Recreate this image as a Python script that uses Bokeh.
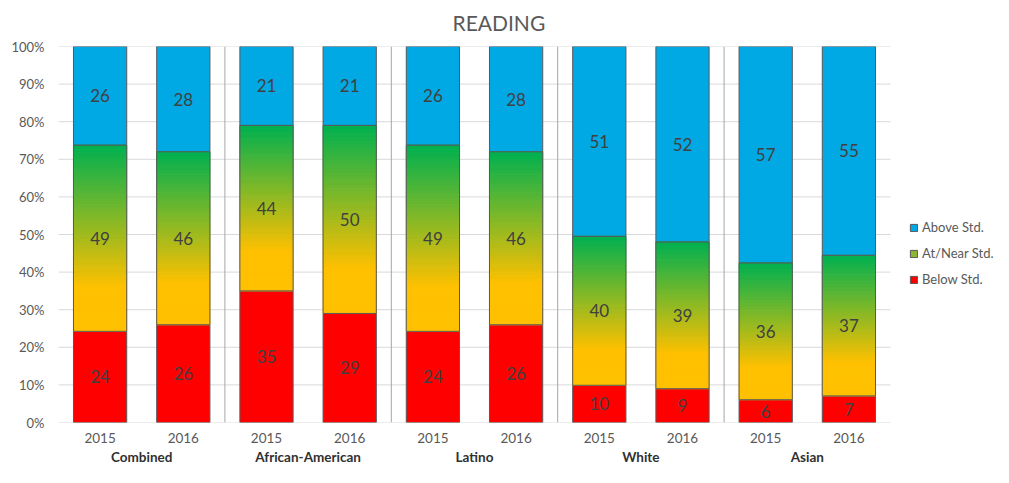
from bokeh.plotting import figure
from bokeh.models import (Range1d, LinearAxis, FixedTicker, Span, Legend, LegendItem,
                          PrintfTickFormatter)
from bokeh.embed import file_html
from bokeh.resources import INLINE
from bokeh.core.properties import value

# ---------------- data ----------------
groups = ["Combined", "African-American", "Latino", "White", "Asian"]
years = ["2015", "2016"]
below = [24, 26, 35, 29, 24, 26, 10, 9, 6, 7]
at_near = [49, 46, 44, 50, 49, 46, 40, 39, 36, 37]
above = [26, 28, 21, 21, 26, 28, 51, 52, 57, 55]
y_ticks = [0, 10, 20, 30, 40, 50, 60, 70, 80, 90, 100]
series_names = ["Above Std.", "At/Near Std.", "Below Std."]

# ---------------- style / layout ----------------
FONT = "Lato"
BLUE = "#00A8E4"
RED = "#FF0000"
GREEN = (0, 176, 80)
ORANGE = (255, 192, 0)
OUTLINE = "#595959"
TXT = "#595959"
N_SLICES = 60
BAR_W = 1.28
W, H = 993, 467
LEFT = 58
BAR_AREA_W = 832          # pixel width taken by the bar groups

n = len(below)
xs = [2 * i + 1 for i in range(n)]
tot = [b + a + c for b, a, c in zip(below, at_near, above)]
b_top = [b / t * 100 for b, t in zip(below, tot)]
a_top = [(b + a) / t * 100 for b, a, t in zip(below, at_near, tot)]
x_end = 2 * n * (W - LEFT) / BAR_AREA_W


def grad(f_from_top, stop=0.76):
    if f_from_top >= stop:
        c = ORANGE
    else:
        t = f_from_top / stop
        c = tuple(int(round(g + (o - g) * t)) for g, o in zip(GREEN, ORANGE))
    return "#%02x%02x%02x" % c


p = figure(width=W, height=H, output_backend="svg", toolbar_location=None,
           x_range=Range1d(0, x_end), y_range=Range1d(0, 100),
           x_axis_type=None, y_axis_type=None,
           min_border_left=LEFT, min_border_right=0, min_border_top=46, min_border_bottom=30)
p.outline_line_color = None
p.background_fill_color = "white"
p.xgrid.visible = False
p.ygrid.visible = False

# title
p.title.text = "READING"
p.title.align = "left"
p.title.vertical_align = "top"
p.title.offset = 394
p.title.text_font = FONT
p.title.text_font_size = "21px"
p.title.text_font_style = "normal"
p.title.text_color = TXT
p.title.standoff = 19

# y axis
yax = LinearAxis(ticker=FixedTicker(ticks=y_ticks), formatter=PrintfTickFormatter(format="%d%%"))
yax.axis_line_color = None
yax.major_tick_line_color = None
yax.minor_tick_line_color = None
yax.major_tick_out = 0
yax.major_tick_in = 0
yax.major_label_text_font = FONT
yax.major_label_text_font_size = "13px"
yax.major_label_text_color = TXT
yax.major_label_standoff = 14
p.add_layout(yax, "left")

# horizontal gridlines across the bar area
p.segment(x0=[0] * len(y_ticks), x1=[2 * n] * len(y_ticks), y0=y_ticks, y1=y_ticks,
          line_color="#D9D9D9", line_width=1)

# x axes: years then groups
yr_ax = LinearAxis(ticker=FixedTicker(ticks=xs),
                   major_label_overrides={x: years[i % 2] for i, x in enumerate(xs)})
grp_centers = [4 * g + 2 for g in range(len(groups))]
gr_ax = LinearAxis(ticker=FixedTicker(ticks=grp_centers),
                   major_label_overrides={x: groups[i] for i, x in enumerate(grp_centers)})
for ax in (yr_ax, gr_ax):
    ax.axis_line_color = None
    ax.major_tick_line_color = None
    ax.minor_tick_line_color = None
    ax.major_tick_out = 0
    ax.major_tick_in = 0
    ax.major_label_text_font = FONT
yr_ax.major_label_text_font_size = "13.5px"
yr_ax.major_label_text_color = TXT
yr_ax.major_label_standoff = 10
gr_ax.major_label_text_font_size = "13.5px"
gr_ax.major_label_text_color = "#303030"
gr_ax.major_label_text_font_style = "bold"
gr_ax.major_label_standoff = 3
p.add_layout(yr_ax, "below")
p.add_layout(gr_ax, "below")

# group dividers
for g in range(1, len(groups)):
    p.add_layout(Span(location=4 * g, dimension="height", line_color="#A6A6A6", line_width=1))

lefts = [x - BAR_W / 2 for x in xs]
rights = [x + BAR_W / 2 for x in xs]

# legend proxy for the gradient series (zero-area, hidden under the bars)
r_mid_leg = p.quad(left=lefts[:1], right=lefts[:1], bottom=b_top[:1], top=b_top[:1],
                   fill_color="#8DB531", line_color=OUTLINE, line_width=1)

# below segment
r_below = p.quad(left=lefts, right=rights, bottom=[0] * n, top=b_top,
                 fill_color=RED, line_color=OUTLINE, line_width=1)
# above segment
r_above = p.quad(left=lefts, right=rights, bottom=a_top, top=[100] * n,
                 fill_color=BLUE, line_color=OUTLINE, line_width=1)

# gradient middle segment
L, R, B, T, C = [], [], [], [], []
for i in range(n):
    h = a_top[i] - b_top[i]
    for k in range(N_SLICES):
        L.append(lefts[i])
        R.append(rights[i])
        B.append(b_top[i] + h * k / N_SLICES)
        T.append(b_top[i] + h * (k + 1) / N_SLICES)
        C.append(grad(1 - (k + 0.5) / N_SLICES))
p.quad(left=L, right=R, bottom=B, top=T, fill_color=C, line_color=C, line_width=1)
# outline for middle
p.quad(left=lefts, right=rights, bottom=b_top, top=a_top, fill_alpha=0,
       line_color=OUTLINE, line_width=1)

# data labels
lab_x, lab_y, lab_t = [], [], []
for i in range(n):
    lab_x += [xs[i]] * 3
    lab_y += [b_top[i] / 2, (b_top[i] + a_top[i]) / 2, (a_top[i] + 100) / 2]
    lab_t += [str(below[i]), str(at_near[i]), str(above[i])]
p.text(x=lab_x, y=lab_y, text=lab_t, text_align="center", text_baseline="middle",
       text_font=value(FONT), text_font_size="17px", text_color="#404040")

legend = Legend(items=[LegendItem(label=series_names[0], renderers=[r_above]),
                       LegendItem(label=series_names[1], renderers=[r_mid_leg]),
                       LegendItem(label=series_names[2], renderers=[r_below])],
                location=(BAR_AREA_W + 19, 133))
legend.glyph_width = 9
legend.glyph_height = 9
legend.label_text_font = FONT
legend.label_text_font_size = "13px"
legend.label_text_color = TXT
legend.label_standoff = 4
legend.label_height = 20
legend.spacing = 6
legend.padding = 0
legend.margin = 0
legend.border_line_color = None
legend.background_fill_alpha = 0
p.add_layout(legend)

open("out.html", "w").write(file_html(p, INLINE))
